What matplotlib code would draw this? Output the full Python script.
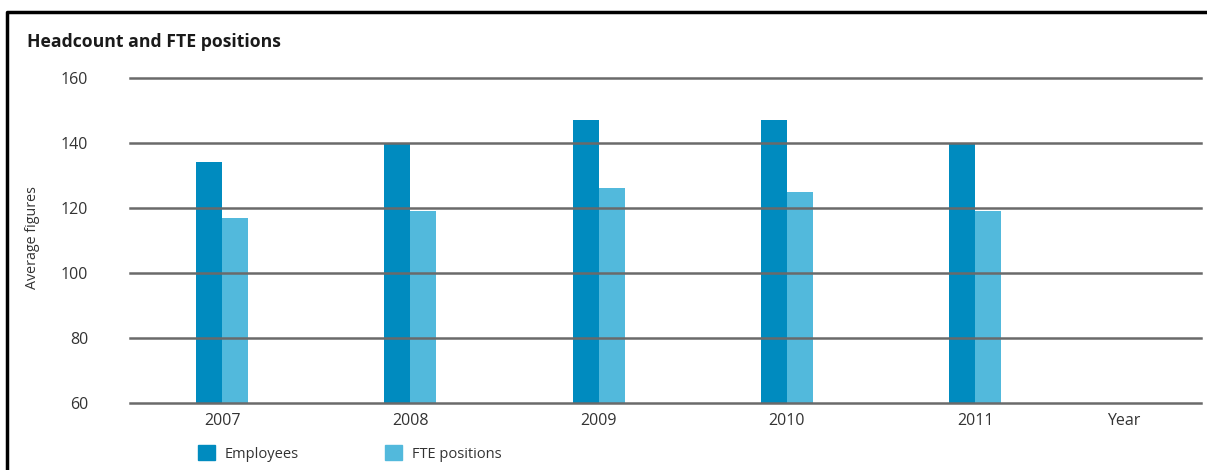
import matplotlib.pyplot as plt
import numpy as np
from matplotlib.patches import Rectangle

plt.rcParams['font.family'] = ['Open Sans', 'DejaVu Sans']

years = ['2007', '2008', '2009', '2010', '2011']
employees = [134, 140, 147, 147, 140]
fte = [117, 119, 126, 125, 119]
yticks = [60, 80, 100, 120, 140, 160]

c_emp = '#008bbf'
c_fte = '#52b9dc'
txt = '#333333'

W, H = 1207, 470
fig = plt.figure(figsize=(W / 100, H / 100), dpi=100)
ax = fig.add_axes([130 / W, 1 - 403 / H, (1201 - 130) / W, (403 - 78) / H])

x = np.arange(len(years))
bw = 0.138
ax.bar(x - bw / 2, employees, bw, color=c_emp, zorder=2)
ax.bar(x + bw / 2, fte, bw, color=c_fte, zorder=2)

for t in yticks:
    ax.axhline(t, color='#6a6a6a', lw=1.8, zorder=3, clip_on=False)

ax.set_ylim(60, 160)
ax.set_xlim(-0.49, 5.2)
ax.set_yticks(yticks)
ax.set_yticklabels([str(t) for t in yticks], fontsize=11.5, color=txt)
ax.set_xticks(x)
ax.set_xticklabels(years, fontsize=11.5, color=txt)
ax.tick_params(axis='y', length=0, pad=30)
ax.tick_params(axis='x', length=0, pad=7)
for s in ax.spines.values():
    s.set_visible(False)

ax.annotate('Year', xy=(4.79, 60), xytext=(0, -7), textcoords='offset points',
            ha='center', va='top', fontsize=11.5, color=txt)

fig.text(33 / W, 1 - 238 / H, 'Average figures', rotation=90, ha='center', va='center',
         fontsize=10.3, color=txt)
fig.text(27 / W, 1 - 42 / H, 'Headcount and FTE positions', ha='left', va='center',
         fontsize=12.7, fontweight='bold', color='#1a1a1a')

# legend
fig.patches.append(Rectangle((198 / W, 1 - 460 / H), 17 / W, 15 / H, color=c_emp,
                             transform=fig.transFigure))
fig.text(225 / W, 1 - 454 / H, 'Employees', ha='left', va='center', fontsize=10.5, color=txt)
fig.patches.append(Rectangle((385 / W, 1 - 460 / H), 17 / W, 15 / H, color=c_fte,
                             transform=fig.transFigure))
fig.text(412 / W, 1 - 454 / H, 'FTE positions', ha='left', va='center', fontsize=10.5, color=txt)

# outer frame (open to right and bottom)
fig.lines.append(plt.Line2D([7 / W, 7 / W, 1.0], [0.0, 1 - 12 / H, 1 - 12 / H],
                            color='black', lw=2.5, transform=fig.transFigure))

fig.savefig('out.png', dpi=100)
